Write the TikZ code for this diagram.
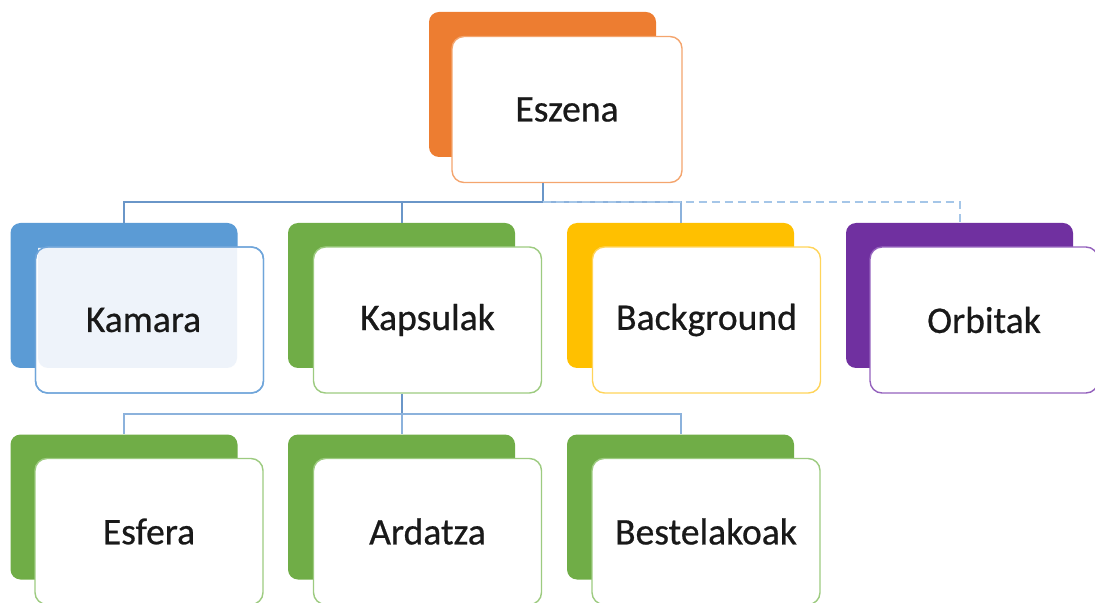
\documentclass[tikz,border=0pt]{standalone}
\usepackage{fontspec}
\setmainfont{Carlito}[FakeBold=0.5]
\newfontfamily\boxfont{Carlito}[FakeBold=0.6]
\usetikzlibrary{calc}
\definecolor{cOrange}{HTML}{ED7D31}
\definecolor{bOrange}{HTML}{F4A56E}
\definecolor{cBlue}{HTML}{5B9BD5}
\definecolor{bBlue}{HTML}{6FA5DA}
\definecolor{fBlue}{HTML}{EEF3FA}
\definecolor{cGreen}{HTML}{70AD47}
\definecolor{bGreen}{HTML}{9DCB80}
\definecolor{cYellow}{HTML}{FFC000}
\definecolor{bYellow}{HTML}{FFD45A}
\definecolor{cPurple}{HTML}{7030A0}
\definecolor{bPurple}{HTML}{9461BD}
\definecolor{lineA}{HTML}{6A96C8}
\definecolor{lineB}{HTML}{8CB2DC}
\definecolor{lineD}{HTML}{A5C6E8}
\tikzset{
  backbox/.style={rectangle, rounded corners=5pt, minimum width=113.5pt, minimum height=72.5pt, inner sep=0pt, draw=none},
  frontbox/.style={rectangle, rounded corners=6pt, minimum width=114pt, minimum height=73pt, inner sep=0pt, fill=white, line width=0.7pt, font=\boxfont\fontsize{18.8}{22}\selectfont\color{black!90}},
  conn/.style={draw=lineA, line width=1pt},
  connb/.style={draw=lineB, line width=1pt},
  dconn/.style={draw=lineD, line width=1pt, dash pattern=on 4pt off 2.5pt},
}
\begin{document}
\begin{tikzpicture}[x=0.5pt,y=-0.5pt]
\useasboundingbox (0,0) rectangle (1095,603);
% row 0
\node[backbox, fill=cOrange] (eszB) at (542.5,84.5) {};
\node[frontbox, draw=bOrange, minimum width=115pt] (esz) at (567,109.5) {Eszena};
% row 1
\node[backbox, fill=cBlue] (kamB) at (124,295.5) {};
\node[frontbox, draw=bBlue] (kam) at (149.5,320) {};
\fill[fBlue, rounded corners=0pt] (38,248) -- (237,248) -- (237,358) [rounded corners=5pt] -- (237,368) -- (38,368) [rounded corners=0pt] -- cycle;
\node[frontbox, draw=bBlue, fill=none] (kamT) at (149.5,320) {\hspace*{-6pt}Kamara};
\node[backbox, fill=cGreen] (kapB) at (401.5,295.5) {};
\node[frontbox, draw=bGreen] (kap) at (427.5,320) {Kapsulak};
\node[backbox, fill=cYellow] (bgB) at (680.5,295.5) {};
\node[frontbox, draw=bYellow] (bg) at (706.5,320) {Background};
\node[backbox, fill=cPurple] (orbB) at (959.5,295.5) {};
\node[frontbox, draw=bPurple] (orb) at (984,320) {Orbitak};
% row 2
\node[backbox, fill=cGreen] (esfB) at (124,507) {};
\node[frontbox, draw=bGreen] (esf) at (149,531.5) {Esfera};
\node[backbox, fill=cGreen] (ardB) at (401.5,507) {};
\node[frontbox, draw=bGreen] (ard) at (427.5,531.5) {Ardatza};
\node[backbox, fill=cGreen] (besB) at (680.5,507) {};
\node[frontbox, draw=bGreen] (bes) at (706,531.5) {Bestelakoak};
% connectors row 1
\coordinate (j1) at ($(eszB.south)+(0,45)$);
\draw[conn] (esz.south -| eszB.south) -- (j1);
\draw[conn] (j1) -| (kamB.north);
\draw[conn] (j1) -| (kapB.north);
\draw[connb] (j1) -| (bgB.north);
\draw[dconn] (j1) -| (orbB.north);
% connectors row 2
\coordinate (j2) at ($(kapB.south)+(0,46)$);
\draw[conn] (kap.south -| kapB.south) -- (j2);
\draw[connb] (j2) -| (esfB.north);
\draw[connb] (j2) -| (ardB.north);
\draw[connb] (j2) -| (besB.north);
\end{tikzpicture}
\end{document}
